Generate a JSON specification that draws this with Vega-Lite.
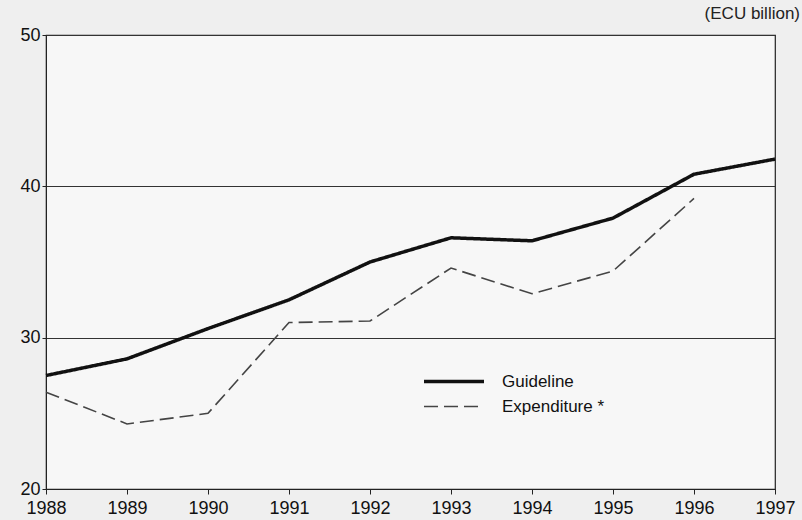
{
  "$schema": "https://vega.github.io/schema/vega-lite/v6.json",
  "width": 729,
  "height": 454,
  "autosize": {"type": "none"},
  "padding": {"left": 46, "top": 35, "right": 27, "bottom": 31},
  "background": "#efefef",
  "title": {"text": "(ECU billion)", "anchor": "end", "fontSize": 17, "fontWeight": "normal", "font": "Liberation Sans", "color": "#222", "offset": 3, "dx": 5},
  "config": {
    "view": {"stroke": "#222", "strokeWidth": 1.2, "fill": "#f7f7f7"},
    "axis": {"labelFont": "Liberation Sans", "labelFontSize": 18, "labelColor": "#111", "domainColor": "#222", "tickColor": "#222", "title": null},
    "legend": {"title": null, "orient": "none", "legendX": 376, "legendY": 337, "symbolType": "stroke", "symbolSize": 3600, "clipHeight": 19, "labelFont": "Liberation Sans", "labelFontSize": 17, "labelColor": "#111", "rowPadding": 6, "labelOffset": 16}
  },
  "data": {"values": [
    {"year": 1988, "series": "Guideline", "value": 27.5},
    {"year": 1989, "series": "Guideline", "value": 28.6},
    {"year": 1990, "series": "Guideline", "value": 30.6},
    {"year": 1991, "series": "Guideline", "value": 32.5},
    {"year": 1992, "series": "Guideline", "value": 35.0},
    {"year": 1993, "series": "Guideline", "value": 36.6},
    {"year": 1994, "series": "Guideline", "value": 36.4},
    {"year": 1995, "series": "Guideline", "value": 37.9},
    {"year": 1996, "series": "Guideline", "value": 40.8},
    {"year": 1997, "series": "Guideline", "value": 41.8},
    {"year": 1988, "series": "Expenditure *", "value": 26.4},
    {"year": 1989, "series": "Expenditure *", "value": 24.3},
    {"year": 1990, "series": "Expenditure *", "value": 25.0},
    {"year": 1991, "series": "Expenditure *", "value": 31.0},
    {"year": 1992, "series": "Expenditure *", "value": 31.1},
    {"year": 1993, "series": "Expenditure *", "value": 34.6},
    {"year": 1994, "series": "Expenditure *", "value": 32.9},
    {"year": 1995, "series": "Expenditure *", "value": 34.4},
    {"year": 1996, "series": "Expenditure *", "value": 39.2}
  ]},
  "mark": {"type": "line", "strokeCap": "butt"},
  "encoding": {
    "x": {"field": "year", "type": "quantitative", "scale": {"domain": [1988, 1997], "nice": false, "zero": false},
      "axis": {"values": [1988,1989,1990,1991,1992,1993,1994,1995,1996,1997], "format": "d", "grid": false, "tickSize": 5, "labelPadding": 5, "labelFlush": false}},
    "y": {"field": "value", "type": "quantitative", "scale": {"domain": [20, 50], "nice": false, "zero": false},
      "axis": {"values": [20, 30, 40, 50], "grid": true, "gridColor": "#333", "gridWidth": 1, "gridOpacity": 1, "tickSize": 4, "labelPadding": 2, "labelBaseline": "middle"}},
    "color": {"field": "series", "type": "nominal", "scale": {"domain": ["Guideline", "Expenditure *"], "range": ["#111111", "#444444"]}},
    "strokeDash": {"field": "series", "type": "nominal", "scale": {"domain": ["Guideline", "Expenditure *"], "range": [[1, 0], [14, 6]]}},
    "strokeWidth": {"field": "series", "type": "nominal", "scale": {"domain": ["Guideline", "Expenditure *"], "range": [3.5, 1.6]}}
  }
}
